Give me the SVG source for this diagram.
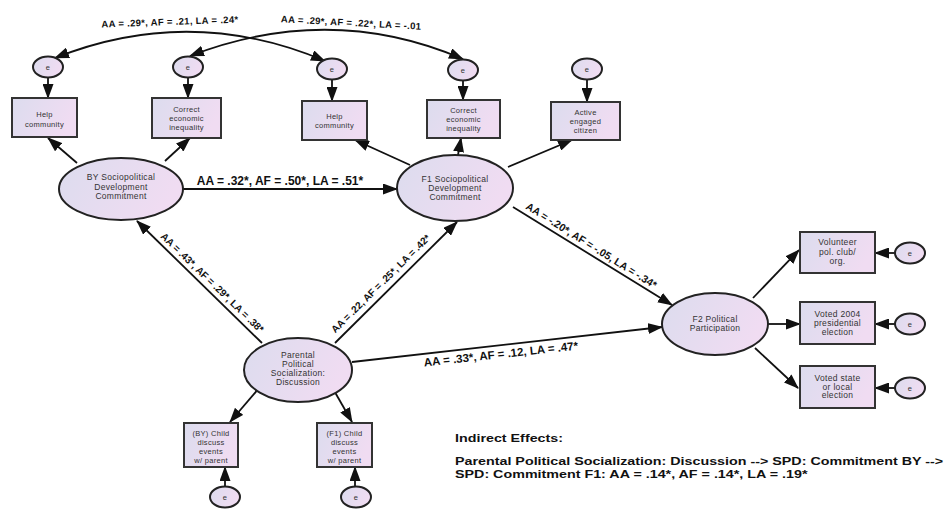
<svg xmlns="http://www.w3.org/2000/svg" width="950" height="509" viewBox="0 0 950 509">
<defs>
<linearGradient id="g" x1="0" y1="0" x2="1" y2="0.3">
<stop offset="0" stop-color="#dcdcee"/>
<stop offset="1" stop-color="#f0dcf2"/>
</linearGradient>
<marker id="ah" viewBox="0 0 15 11" refX="14" refY="5.5" markerWidth="15" markerHeight="11" markerUnits="userSpaceOnUse" orient="auto-start-reverse">
<path d="M0,0 L15,5.5 L0,11 z" fill="#111"/>
</marker>
</defs>
<style>
.box{fill:url(#g);stroke:#333;stroke-width:2}
.ell{fill:url(#g);stroke:#222;stroke-width:2}
.err{fill:url(#g);stroke:#222;stroke-width:2}
.t{font-family:"Liberation Sans",Arial,sans-serif;font-size:7.5px;fill:#333;text-anchor:middle;letter-spacing:0.3px}
.tr{font-family:"Liberation Sans",Arial,sans-serif;font-size:8.5px;fill:#333;text-anchor:middle;letter-spacing:0.3px}
.te{font-family:"Liberation Sans",Arial,sans-serif;font-size:8.5px;fill:#333;text-anchor:middle;letter-spacing:0.3px}
.lab{font-family:"Liberation Sans",Arial,sans-serif;font-weight:bold;fill:#111;text-anchor:middle}
.c{stroke:#111;stroke-width:1.8;fill:none;marker-end:url(#ah)}
.cv{stroke:#111;stroke-width:1.8;fill:none;marker-end:url(#ah);marker-start:url(#ah)}
.note{font-family:"Liberation Sans",Arial,sans-serif;font-weight:bold;fill:#111;font-size:11px}
</style>
<rect width="950" height="509" fill="#fff"/>

<g id="connectors">
<path class="cv" d="M55,58 Q190,4 325,61"/>
<path class="cv" d="M190,56 Q330,2 463,59"/>
<line class="c" x1="48" y1="78" x2="48" y2="98"/>
<line class="c" x1="188" y1="78" x2="188" y2="98"/>
<line class="c" x1="332" y1="80" x2="332" y2="101"/>
<line class="c" x1="463" y1="81" x2="463" y2="100"/>
<line class="c" x1="587" y1="80" x2="587" y2="102"/>
<line class="c" x1="77" y1="163" x2="48" y2="138"/>
<line class="c" x1="165" y1="161" x2="190" y2="138"/>
<line class="c" x1="410" y1="165" x2="355" y2="140"/>
<line class="c" x1="458" y1="155" x2="461" y2="138"/>
<line class="c" x1="508" y1="167" x2="572" y2="140"/>
<line class="c" x1="183" y1="189" x2="397" y2="189"/>
<line class="c" x1="262" y1="343" x2="137" y2="221"/>
<line class="c" x1="335" y1="343" x2="457" y2="222"/>
<line class="c" x1="352" y1="362" x2="662" y2="327"/>
<line class="c" x1="513" y1="207" x2="672" y2="305"/>
<line class="c" x1="753" y1="298" x2="799" y2="250"/>
<line class="c" x1="768" y1="324" x2="800" y2="324"/>
<line class="c" x1="755" y1="348" x2="798" y2="388"/>
<line class="c" x1="895" y1="253" x2="875" y2="253"/>
<line class="c" x1="895" y1="324" x2="875" y2="324"/>
<line class="c" x1="895" y1="388" x2="875" y2="388"/>
<line class="c" x1="260" y1="387" x2="230" y2="422"/>
<line class="c" x1="332" y1="387" x2="352" y2="422"/>
<line class="c" x1="225" y1="487" x2="225" y2="467"/>
<line class="c" x1="355" y1="487" x2="355" y2="467"/>
</g>

<g id="edge-labels">
<text class="lab" font-size="9.5" letter-spacing="0.3" transform="translate(170,25) rotate(-2)">AA = .29*, AF = .21, LA = .24*</text>
<text class="lab" font-size="9.5" letter-spacing="0.3" transform="translate(351,26) rotate(3)">AA = .29*, AF = .22*, LA = -.01</text>
<text class="lab" x="280" y="185" font-size="12">AA = .32*, AF = .50*, LA = .51*</text>
<text class="lab" font-size="10" transform="translate(212,283) rotate(44)" y="3">AA = .43*, AF = .29*, LA = .38*</text>
<text class="lab" font-size="10" transform="translate(381,284) rotate(-44.8)" y="3">AA = .22, AF = .25*, LA = .42*</text>
<text class="lab" font-size="10.5" transform="translate(591,246) rotate(32)" y="3">AA = -.20*, AF = -.05, LA = -.34*</text>
<text class="lab" font-size="11.5" transform="translate(501,355) rotate(-6.3)" y="3">AA = .33*, AF = .12, LA = .47*</text>
</g>

<g id="e1"><ellipse class="err" cx="48" cy="67" rx="15" ry="10.5"/><text class="t" x="48" y="69.5">e</text></g>
<g id="e2"><ellipse class="err" cx="188" cy="67" rx="15" ry="10.5"/><text class="t" x="188" y="69.5">e</text></g>
<g id="e3"><ellipse class="err" cx="332" cy="69" rx="15" ry="10.5"/><text class="t" x="332" y="71.5">e</text></g>
<g id="e4"><ellipse class="err" cx="463" cy="70" rx="15" ry="10.5"/><text class="t" x="463" y="72.5">e</text></g>
<g id="e5"><ellipse class="err" cx="587" cy="69" rx="15" ry="10.5"/><text class="t" x="587" y="71.5">e</text></g>
<g id="e6"><ellipse class="err" cx="910" cy="253" rx="15" ry="10.5"/><text class="t" x="910" y="255.5">e</text></g>
<g id="e7"><ellipse class="err" cx="910" cy="324" rx="15" ry="10.5"/><text class="t" x="910" y="326.5">e</text></g>
<g id="e8"><ellipse class="err" cx="910" cy="388" rx="15" ry="10.5"/><text class="t" x="910" y="390.5">e</text></g>
<g id="e9"><ellipse class="err" cx="225" cy="497" rx="15" ry="10.5"/><text class="t" x="225" y="499.5">e</text></g>
<g id="e10"><ellipse class="err" cx="356" cy="497" rx="15" ry="10.5"/><text class="t" x="356" y="499.5">e</text></g>

<g id="help1"><rect class="box" x="12" y="98" width="65" height="39"/><text class="t" x="44.5" y="117">Help</text><text class="t" x="44.5" y="127">community</text></g>
<g id="correct1"><rect class="box" x="152" y="98" width="69" height="40"/><text class="t" x="186.5" y="112">Correct</text><text class="t" x="186.5" y="121">economic</text><text class="t" x="186.5" y="130">inequality</text></g>
<g id="help2"><rect class="box" x="302" y="101" width="65" height="39"/><text class="t" x="334.5" y="119">Help</text><text class="t" x="334.5" y="128">community</text></g>
<g id="correct2"><rect class="box" x="427" y="100" width="73" height="38"/><text class="t" x="463.5" y="113">Correct</text><text class="t" x="463.5" y="122">economic</text><text class="t" x="463.5" y="131">inequality</text></g>
<g id="active"><rect class="box" x="551" y="102" width="69" height="38"/><text class="t" x="585.5" y="115">Active</text><text class="t" x="585.5" y="124">engaged</text><text class="t" x="585.5" y="133">citizen</text></g>

<g id="by-spd"><ellipse class="ell" cx="121" cy="189" rx="62" ry="31"/><text class="te" x="121" y="180">BY Sociopolitical</text><text class="te" x="121" y="189.5">Development</text><text class="te" x="121" y="199">Commitment</text></g>
<g id="f1-spd"><ellipse class="ell" cx="455" cy="188" rx="58" ry="33"/><text class="te" x="455" y="182">F1 Sociopolitical</text><text class="te" x="455" y="191">Development</text><text class="te" x="455" y="200">Commitment</text></g>
<g id="parental"><ellipse class="ell" cx="298" cy="370" rx="54" ry="32"/><text class="te" x="298" y="358">Parental</text><text class="te" x="298" y="367">Political</text><text class="te" x="298" y="376">Socialization:</text><text class="te" x="298" y="385">Discussion</text></g>
<g id="f2"><ellipse class="ell" cx="715" cy="324" rx="53" ry="31"/><text class="te" x="715" y="322">F2 Political</text><text class="te" x="715" y="331">Participation</text></g>

<g id="volunteer"><rect class="box" x="800" y="232" width="75" height="41"/><text class="tr" x="837.5" y="245">Volunteer</text><text class="tr" x="837.5" y="254.5">pol. club/</text><text class="tr" x="837.5" y="264">org.</text></g>
<g id="voted2004"><rect class="box" x="800" y="302" width="75" height="42"/><text class="tr" x="837.5" y="317">Voted 2004</text><text class="tr" x="837.5" y="326">presidential</text><text class="tr" x="837.5" y="335">election</text></g>
<g id="votedstate"><rect class="box" x="800" y="366" width="75" height="42"/><text class="tr" x="837.5" y="381">Voted state</text><text class="tr" x="837.5" y="389.5">or local</text><text class="tr" x="837.5" y="398">election</text></g>

<g id="bychild"><rect class="box" x="184" y="423" width="54" height="44"/><text class="t" x="211" y="436">(BY) Child</text><text class="t" x="211" y="445">discuss</text><text class="t" x="211" y="454">events</text><text class="t" x="211" y="462.5">w/ parent</text></g>
<g id="f1child"><rect class="box" x="317" y="423" width="55" height="44"/><text class="t" x="344.5" y="436">(F1) Child</text><text class="t" x="344.5" y="445">discuss</text><text class="t" x="344.5" y="454">events</text><text class="t" x="344.5" y="462.5">w/ parent</text></g>

<g id="indirect" transform="translate(455,0) scale(1.3,1)">
<text class="note" x="0" y="442">Indirect Effects:</text>
<text class="note" x="0" y="465">Parental Political Socialization: Discussion --&gt; SPD: Commitment BY --&gt;</text>
<text class="note" x="0" y="478">SPD: Commitment F1:  AA = .14*, AF = .14*, LA = .19*</text>
</g>
</svg>
